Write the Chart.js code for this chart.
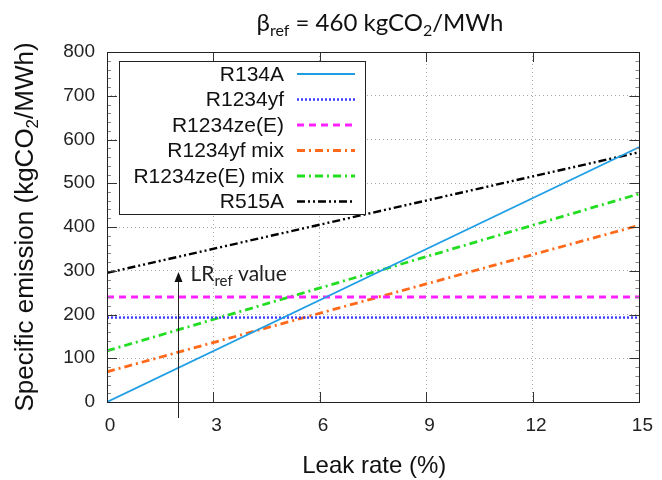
<!DOCTYPE html>
<html>
<head>
<meta charset="utf-8">
<title>Specific emission vs leak rate</title>
<script src="https://cdn.jsdelivr.net/npm/chart.js"></script>
<style>
    html, body { margin: 0; padding: 0; background: #fff; }
    #chart { display: block; }
</style>
</head>
<body>
<canvas id="chart" width="662" height="480"></canvas>
<script>
    // data
    const leakRates = [0, 15];
    const seriesNames = ['R134A', 'R1234yf', 'R1234ze(E)', 'R1234yf mix', 'R1234ze(E) mix', 'R515A'];
    const r134a = [0, 583];
    const r1234yf = [193, 193];
    const r1234ze = [240, 240];
    const r1234yfMix = [69, 404];
    const r1234zeMix = [117, 476];
    const r515a = [295, 571];
    const xTicks = [0, 3, 6, 9, 12, 15];
    const yTicks = [0, 100, 200, 300, 400, 500, 600, 700, 800];
    const lrRef = 2;          // leak rate of the arrow
    const lrArrowTop = 297;   // where the arrow tip sits

    const seriesValues = [r134a, r1234yf, r1234ze, r1234yfMix, r1234zeMix, r515a];
    const lineStyles = [
        { color: '#1f9ee6', dash: [], width: 1.8 },
        { color: '#3b3bff', dash: [2, 2], width: 2.4 },
        { color: '#ff22ff', dash: [7, 5], width: 2.8 },
        { color: '#ff6a1a', dash: [8, 4, 2, 4], width: 2.8 },
        { color: '#22dd22', dash: [8, 4, 2, 4], width: 2.8 },
        { color: '#000000', dash: [8, 3, 2, 3, 2, 3], width: 2.4 }
    ];

    const axisFont = '"Liberation Sans", Arial, sans-serif';
    const noteFont = 'Lato, "Open Sans", sans-serif';

    const datasets = seriesNames.map((name, i) => ({
        label: name,
        data: leakRates.map((x, j) => ({ x: x, y: seriesValues[i][j] })),
        borderColor: lineStyles[i].color,
        borderDash: lineStyles[i].dash,
        borderWidth: lineStyles[i].width,
        pointRadius: 0,
        fill: false,
        tension: 0
    }));

    // draws text pieces, some of them as subscripts; returns total width
    function richText(ctx, parts, x, y, measureOnly) {
        let w = 0;
        parts.forEach(p => {
            ctx.font = p.font;
            const pw = ctx.measureText(p.t).width;
            if (!measureOnly) ctx.fillText(p.t, x + w, y + (p.dy || 0));
            w += pw;
        });
        return w;
    }

    const decor = {
        id: 'decor',
        afterDatasetsDraw(chart) {
            const ctx = chart.ctx;
            const xs = chart.scales.x, ys = chart.scales.y;
            const a = chart.chartArea;
            ctx.save();
            ctx.textAlign = 'left';

            // minor ticks on y
            ctx.strokeStyle = '#888';
            ctx.lineWidth = 1;
            for (let v = 20; v < 800; v += 20) {
                if (v % 100 === 0) continue;
                const py = Math.round(ys.getPixelForValue(v)) + 0.5;
                ctx.beginPath();
                ctx.moveTo(a.left, py); ctx.lineTo(a.left + 4, py);
                ctx.moveTo(a.right, py); ctx.lineTo(a.right - 4, py);
                ctx.stroke();
            }

            // major ticks, pointing inward on all four sides
            ctx.strokeStyle = '#333';
            xTicks.forEach(v => {
                const px = Math.round(xs.getPixelForValue(v)) + 0.5;
                ctx.beginPath();
                ctx.moveTo(px, a.bottom); ctx.lineTo(px, a.bottom - 10);
                ctx.moveTo(px, a.top); ctx.lineTo(px, a.top + 10);
                ctx.stroke();
            });
            yTicks.forEach(v => {
                const py = Math.round(ys.getPixelForValue(v)) + 0.5;
                ctx.beginPath();
                ctx.moveTo(a.left, py); ctx.lineTo(a.left + 10, py);
                ctx.moveTo(a.right, py); ctx.lineTo(a.right - 10, py);
                ctx.stroke();
            });

            // frame
            ctx.strokeStyle = '#222';
            ctx.strokeRect(Math.round(a.left) + 0.5, Math.round(a.top) + 0.5,
                Math.round(a.right - a.left), Math.round(a.bottom - a.top));

            // LR_ref arrow
            const ax = Math.round(xs.getPixelForValue(lrRef)) + 0.5;
            const tip = ys.getPixelForValue(lrArrowTop);
            ctx.strokeStyle = '#222';
            ctx.fillStyle = '#111';
            ctx.beginPath();
            ctx.moveTo(ax, a.bottom + 16);
            ctx.lineTo(ax, tip + 8);
            ctx.stroke();
            ctx.beginPath();
            ctx.moveTo(ax, tip);
            ctx.lineTo(ax - 4, tip + 10);
            ctx.lineTo(ax + 4, tip + 10);
            ctx.closePath();
            ctx.fill();

            ctx.fillStyle = '#222';
            ctx.textBaseline = 'alphabetic';
            richText(ctx, [
                { t: 'LR', font: '21px ' + noteFont },
                { t: 'ref', font: '15px ' + noteFont, dy: 5 },
                { t: ' value', font: '21px ' + noteFont }
            ], ax + 12, tip + 9);

            // legend box
            const lx = 119.5, ly = 61.5, lw = 246, lh = 153;
            ctx.fillStyle = '#fff';
            ctx.fillRect(lx, ly, lw, lh);
            ctx.strokeStyle = '#222';
            ctx.lineWidth = 1;
            ctx.strokeRect(lx, ly, lw, lh);
            ctx.font = '21px ' + axisFont;
            ctx.textAlign = 'right';
            ctx.textBaseline = 'middle';
            seriesNames.forEach((name, i) => {
                const cy = 74 + i * 25.5;
                ctx.fillStyle = '#111';
                ctx.fillText(name, 284, cy + 1);
                ctx.strokeStyle = lineStyles[i].color;
                ctx.lineWidth = lineStyles[i].width;
                ctx.setLineDash(lineStyles[i].dash);
                ctx.beginPath();
                ctx.moveTo(297, cy); ctx.lineTo(355, cy);
                ctx.stroke();
                ctx.setLineDash([]);
            });

            // title
            ctx.fillStyle = '#111';
            ctx.textAlign = 'left';
            ctx.textBaseline = 'alphabetic';
            const titleParts = [
                { t: 'β', font: '24px ' + noteFont },
                { t: 'ref', font: '16px ' + noteFont, dy: 5 },
                { t: ' = 460 kgCO', font: '24px ' + noteFont },
                { t: '2', font: '16px ' + noteFont, dy: 5 },
                { t: '/MWh', font: '24px ' + noteFont }
            ];
            const tw = richText(ctx, titleParts, 0, 0, true);
            richText(ctx, titleParts, 380 - tw / 2, 31);

            // x axis title
            ctx.font = '24px ' + axisFont;
            ctx.textAlign = 'center';
            ctx.fillText('Leak rate (%)', (a.left + a.right) / 2 + 1, 473);

            // y axis title, rotated, with subscript
            ctx.save();
            ctx.translate(33, (a.top + a.bottom) / 2);
            ctx.rotate(-Math.PI / 2);
            ctx.textAlign = 'left';
            const yParts = [
                { t: 'Specific emission (kgCO', font: '26px ' + axisFont },
                { t: '2', font: '17px ' + axisFont, dy: 5 },
                { t: '/MWh)', font: '26px ' + axisFont }
            ];
            const yw = richText(ctx, yParts, 0, 0, true);
            richText(ctx, yParts, -yw / 2, 0);
            ctx.restore();

            ctx.restore();
        }
    };

    const ctx = document.getElementById('chart').getContext('2d');
    const chart = new Chart(ctx, {
        type: 'line',
        data: { datasets: datasets },
        options: {
            responsive: false,
            animation: false,
            layout: { padding: { top: 52, right: 15, left: 0, bottom: 0 } },
            plugins: {
                legend: { display: false },
                tooltip: { enabled: false },
                title: { display: false }
            },
            scales: {
                x: {
                    type: 'linear',
                    min: 0,
                    max: 15,
                    afterBuildTicks: s => { s.ticks = xTicks.map(v => ({ value: v })); },
                    afterFit: s => { s.height = 78; },
                    ticks: {
                        font: { family: axisFont, size: 19 },
                        color: '#222',
                        padding: 12,
                        labelOffset: 3,
                        maxRotation: 0
                    },
                    grid: { color: '#aaa', lineWidth: 1, drawTicks: false },
                    border: { display: false, dash: [1, 3] }
                },
                y: {
                    min: 0,
                    max: 800,
                    afterBuildTicks: s => { s.ticks = yTicks.map(v => ({ value: v })); },
                    afterFit: s => { s.width = 107; },
                    ticks: {
                        font: { family: axisFont, size: 19 },
                        color: '#222',
                        padding: 12
                    },
                    grid: { color: '#aaa', lineWidth: 1, drawTicks: false },
                    border: { display: false, dash: [1, 3] }
                }
            }
        },
        plugins: [decor]
    });
</script>
</body>
</html>
